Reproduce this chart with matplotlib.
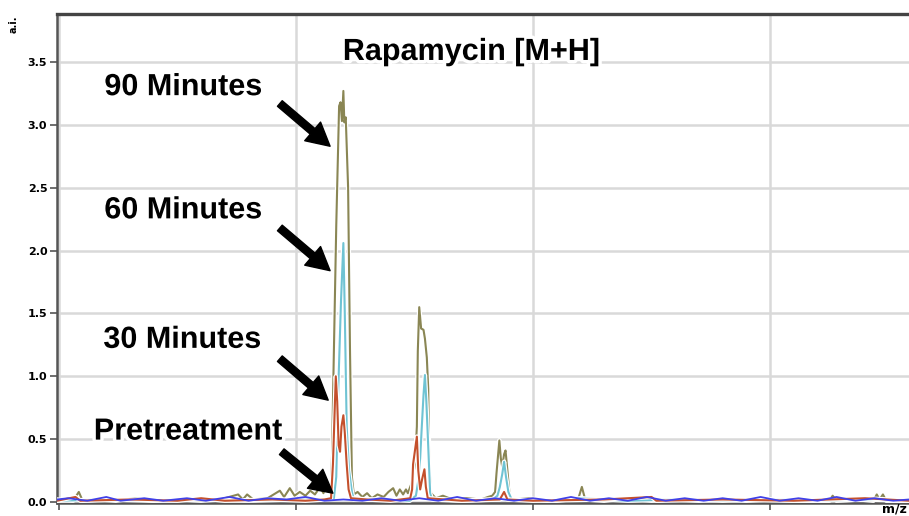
#!/usr/bin/env python3
"""
Rapamycin [M+H] mass spectrum overlay - pretreatment, 30, 60, 90 minutes
"""

import matplotlib
matplotlib.use('Agg')
import matplotlib.pyplot as plt
import matplotlib.patheffects as pe

# m/z and intensity (a.i.) for each time point
mz_90 = [913.996, 914.030, 914.042, 914.050, 914.090, 914.120, 914.160, 914.200, 914.250,
         914.300, 914.340, 914.378, 914.388, 914.397, 914.410, 914.440, 914.466, 914.475,
         914.487, 914.497, 914.508, 914.520, 914.530, 914.540, 914.551, 914.558, 914.563,
         914.570, 914.574, 914.576, 914.579, 914.585, 914.591, 914.594, 914.597, 914.600,
         914.602, 914.605, 914.610, 914.614, 914.618, 914.622, 914.630, 914.640, 914.650,
         914.660, 914.672, 914.685, 914.695, 914.705, 914.712, 914.719, 914.726, 914.732,
         914.736, 914.744, 914.751, 914.755, 914.757, 914.760, 914.764, 914.769, 914.772,
         914.776, 914.779, 914.781, 914.785, 914.795, 914.810, 914.830, 914.860, 914.890,
         914.905, 914.914, 914.920, 914.923, 914.929, 914.932, 914.935, 914.939, 914.942,
         914.946, 914.951, 914.958, 914.990, 915.030, 915.070, 915.095, 915.103, 915.110,
         915.150, 915.200, 915.250, 915.300, 915.350, 915.400, 915.450, 915.500, 915.560,
         915.625, 915.632, 915.640, 915.690, 915.718, 915.725, 915.731, 915.738, 915.745,
         915.793]
ai_90 = [0.02, 0.01, 0.08, 0.01, 0.02, 0.01, 0.03, 0.01, 0.02,
         0.01, 0.02, 0.06, 0.02, 0.06, 0.02, 0.03, 0.09, 0.04,
         0.11, 0.05, 0.08, 0.05, 0.09, 0.06, 0.12, 0.07, 0.15,
         0.09, 0.12, 0.35, 1.00, 2.20, 3.15, 3.18, 3.03, 3.27,
         3.02, 3.06, 2.50, 1.20, 0.20, 0.06, 0.08, 0.04, 0.07,
         0.03, 0.06, 0.04, 0.08, 0.11, 0.05, 0.10, 0.06, 0.10,
         0.07, 0.15, 0.30, 0.60, 1.20, 1.55, 1.38, 1.37, 1.30,
         1.15, 0.90, 0.30, 0.07, 0.03, 0.05, 0.02, 0.03, 0.02,
         0.04, 0.05, 0.08, 0.23, 0.49, 0.35, 0.28, 0.38, 0.41,
         0.25, 0.04, 0.02, 0.03, 0.01, 0.02, 0.02, 0.12, 0.02,
         0.01, 0.03, 0.01, 0.02, 0.01, 0.02, 0.01, 0.02, 0.01,
         0.01, 0.05, 0.01, 0.02, 0.01, 0.06, 0.02, 0.06, 0.01,
         0.01]

mz_60 = [913.996, 914.100, 914.200, 914.300, 914.400, 914.500, 914.560, 914.580, 914.585,
         914.589, 914.595, 914.600, 914.603, 914.607, 914.612, 914.618, 914.622, 914.680,
         914.740, 914.753, 914.758, 914.762, 914.765, 914.769, 914.772, 914.775, 914.779,
         914.783, 914.787, 914.850, 914.915, 914.925, 914.930, 914.935, 914.939, 914.943,
         914.948, 914.955, 915.050, 915.100, 915.200, 915.300, 915.400, 915.500, 915.600,
         915.700, 915.793]
ai_60 = [0.01, 0.02, 0.01, 0.02, 0.01, 0.02, 0.02, 0.03, 0.20,
         0.87, 1.60, 2.06, 1.50, 0.60, 0.25, 0.08, 0.02, 0.02,
         0.01, 0.05, 0.17, 0.35, 0.57, 0.85, 1.01, 0.80, 0.44,
         0.07, 0.02, 0.01, 0.02, 0.05, 0.12, 0.22, 0.32, 0.20,
         0.08, 0.02, 0.01, 0.03, 0.01, 0.02, 0.01, 0.02, 0.01,
         0.02, 0.01]

mz_30 = [913.996, 914.035, 914.045, 914.150, 914.250, 914.300, 914.350, 914.450, 914.520,
         914.560, 914.574, 914.578, 914.584, 914.587, 914.590, 914.593, 914.596, 914.600,
         914.603, 914.607, 914.611, 914.616, 914.650, 914.700, 914.741, 914.745, 914.747,
         914.755, 914.758, 914.762, 914.766, 914.771, 914.774, 914.778, 914.850, 914.930,
         914.939, 914.946, 915.000, 915.150, 915.250, 915.260, 915.400, 915.550, 915.700,
         915.793]
ai_30 = [0.01, 0.04, 0.01, 0.02, 0.01, 0.03, 0.01, 0.02, 0.01,
         0.02, 0.03, 0.30, 1.00, 0.80, 0.45, 0.40, 0.60, 0.69,
         0.55, 0.30, 0.10, 0.03, 0.02, 0.01, 0.03, 0.10, 0.30,
         0.52, 0.25, 0.10, 0.18, 0.26, 0.12, 0.03, 0.01, 0.02,
         0.08, 0.02, 0.01, 0.02, 0.04, 0.01, 0.02, 0.01, 0.03,
         0.01]

mz_pre = [913.996, 914.020, 914.060, 914.100, 914.130, 914.180, 914.220, 914.270, 914.310,
          914.360, 914.400, 914.440, 914.480, 914.520, 914.560, 914.600, 914.640, 914.680,
          914.720, 914.760, 914.800, 914.840, 914.880, 914.920, 914.960, 915.000, 915.040,
          915.080, 915.120, 915.160, 915.200, 915.240, 915.280, 915.320, 915.360, 915.400,
          915.440, 915.480, 915.520, 915.560, 915.600, 915.640, 915.680, 915.720, 915.760,
          915.793]
ai_pre = [0.02, 0.03, 0.01, 0.04, 0.01, 0.03, 0.01, 0.03, 0.01,
          0.04, 0.01, 0.03, 0.02, 0.04, 0.01, 0.02, 0.01, 0.03,
          0.01, 0.03, 0.01, 0.04, 0.01, 0.03, 0.01, 0.03, 0.01,
          0.04, 0.01, 0.03, 0.01, 0.04, 0.01, 0.03, 0.01, 0.03,
          0.01, 0.04, 0.01, 0.03, 0.01, 0.04, 0.01, 0.03, 0.01,
          0.02]

y_ticks = [0.0, 0.5, 1.0, 1.5, 2.0, 2.5, 3.0, 3.5]
x_grid = [914.0, 914.5, 915.0, 915.5]

# labels: (text, text position, arrow tail, arrow tip)
labels = [
    ('90 Minutes', (914.262, 3.30), (914.466, 3.17), (914.572, 2.83)),
    ('60 Minutes', (914.262, 2.32), (914.466, 2.18), (914.572, 1.84)),
    ('30 Minutes', (914.260, 1.29), (914.466, 1.14), (914.568, 0.81)),
    ('Pretreatment', (914.272, 0.56), (914.470, 0.40), (914.578, 0.07)),
]

fig = plt.figure(figsize=(9.09, 5.16), dpi=100)
ax = fig.add_axes([57 / 909, 13 / 516, 1 - 57 / 909, 489 / 516])

halo = [pe.Stroke(linewidth=3.2, foreground='white'), pe.Normal()]
ax.plot(mz_90, ai_90, color='#8a8654', lw=1.5, zorder=3, path_effects=halo)
ax.plot(mz_60, ai_60, color='#6fc3d3', lw=1.5, zorder=4, path_effects=halo)
ax.plot(mz_30, ai_30, color='#c4502c', lw=1.5, zorder=5, path_effects=halo)
ax.plot(mz_pre, ai_pre, color='#4040e8', lw=1.3, zorder=6)

ax.set_xlim(913.996, 915.793)
ax.set_ylim(-0.008, 3.882)
ax.set_xticks(x_grid)
ax.set_xticklabels([])
ax.set_yticks(y_ticks)
ax.set_yticklabels([f'{v:.1f}' for v in y_ticks], fontsize=8, fontweight='bold',
                   family='DejaVu Sans')
ax.tick_params(axis='both', direction='out', length=5, width=1.2, color='#555555', pad=2)
ax.grid(True, color='#d9d9d9', lw=1.8, zorder=0)
ax.set_axisbelow(True)

for side in ['left', 'bottom']:
    ax.spines[side].set_color('#555555')
    ax.spines[side].set_linewidth(1.8)
ax.spines['top'].set_color('#444444')
ax.spines['top'].set_linewidth(2.4)
ax.spines['right'].set_visible(False)

txt_halo = [pe.Stroke(linewidth=5, foreground='white'), pe.Normal()]
ax.text(914.5 + (471 - 296) * 0.5 / 237, 3.58, 'Rapamycin [M+H]', ha='center', va='center',
        fontsize=22, fontweight='bold', family='Liberation Sans', zorder=10,
        path_effects=txt_halo)

for name, pos, tail, tip in labels:
    ax.text(pos[0], pos[1], name, ha='center', va='center', fontsize=22,
            fontweight='bold', family='Liberation Sans', zorder=10, path_effects=txt_halo)
    ax.annotate('', xy=tip, xytext=tail, zorder=11,
                arrowprops=dict(arrowstyle='simple,head_width=0.8,head_length=0.75,tail_width=0.24',
                                mutation_scale=22, color='black', shrinkA=0, shrinkB=0))

fig.text(14 / 909, 1 - 24 / 516, 'a.i.', rotation=90, ha='center', va='center',
         fontsize=7, fontweight='bold', family='DejaVu Sans')
fig.text(907 / 909, 1 / 516, 'm/z', ha='right', va='bottom', fontsize=9,
         fontweight='bold', family='DejaVu Sans')

plt.savefig('out.png', dpi=100)
